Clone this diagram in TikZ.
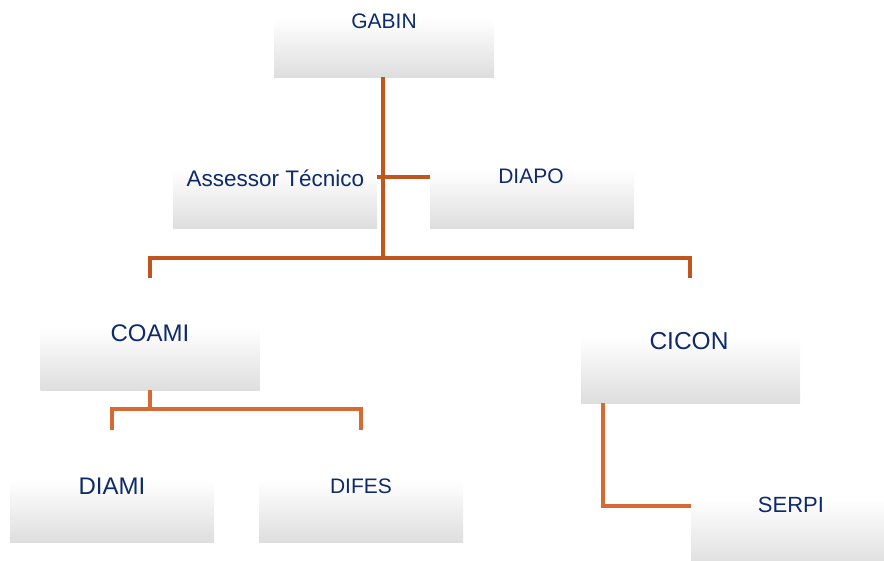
\documentclass[tikz,border=0pt]{standalone}
\usepackage{fontspec}
\setmainfont{Liberation Sans}
\definecolor{navy}{RGB}{14,42,107}
\definecolor{darkor}{RGB}{192,86,30}
\definecolor{lightor}{RGB}{214,106,48}
\definecolor{boxgray}{RGB}{222,222,222}
\begin{document}
\begin{tikzpicture}[x=1pt,y=-1pt,
  orgbox/.style={rectangle, draw=none, top color=white, bottom color=boxgray, minimum width=204pt, minimum height=58pt, inner sep=0pt},
  lbl/.style={text=navy, inner sep=0pt, anchor=center},
  conn/.style={line width=4pt, draw=darkor},
  conn2/.style={line width=4pt, draw=lightor}]
\useasboundingbox (0,0) rectangle (884,560);
\clip (0,0) rectangle (884,560);
% boxes
\node[orgbox, minimum width=220pt, minimum height=59pt] (gabin) at (384,47.5) {};
\node[orgbox] (assessor) at (275,199) {};
\node[orgbox] (diapo) at (532,199) {};
\node[orgbox, minimum width=219pt, minimum height=62pt] (coami) at (150,359) {};
\node[orgbox, minimum width=219pt, minimum height=67pt] (cicon) at (690.5,369.5) {};
\node[orgbox, minimum height=62pt] (diami) at (112,511) {};
\node[orgbox, minimum height=62pt] (difes) at (361,511) {};
\node[orgbox, minimum height=66pt] (serpi) at (793,533) {};
% labels
\node[lbl, font=\fontsize{21}{24}\selectfont] (gabint) at (384,21) {GABIN};
\node[lbl, font=\fontsize{22.5}{26}\selectfont] (assessort) at (275.5,178) {Assessor Técnico};
\node[lbl, font=\fontsize{21}{24}\selectfont] (diapot) at (531,176) {DIAPO};
\node[lbl, font=\fontsize{24}{28}\selectfont] (coamit) at (150,333) {COAMI};
\node[lbl, font=\fontsize{24.5}{28}\selectfont] (cicont) at (689,341) {CICON};
\node[lbl, font=\fontsize{24}{28}\selectfont] (diamit) at (112,486) {DIAMI};
\node[lbl, font=\fontsize{21}{24}\selectfont] (difest) at (361,486) {DIFES};
\node[lbl, font=\fontsize{22}{26}\selectfont] (serpit) at (791,505) {SERPI};
% coordinates
\coordinate (bus) at (383,258);
\coordinate (busL) at (150,258);
\coordinate (busR) at (690,258);
\coordinate (dropL) at (150,278);
\coordinate (dropR) at (690,278);
\coordinate (coamiBus) at (150,409);
\coordinate (coamiL) at (112,409);
\coordinate (coamiR) at (361,409);
\coordinate (coamiDL) at (112,430);
\coordinate (coamiDR) at (361,430);
\coordinate (ciconTop) at (603,403);
\coordinate (ciconCorner) at (603,506);
% connectors
\draw[conn] (gabin.south -| bus) -- (bus);
\draw[conn] (assessor.east |- 0,177) -- (diapo.west |- 0,177);
\draw[conn, line join=miter] (dropL) -- (busL) -- (busR) -- (dropR);
\draw[conn2] (coami.south) -- (coamiBus);
\draw[conn2, line join=miter] (coamiDL) -- (coamiL) -- (coamiR) -- (coamiDR);
\draw[conn2, line join=miter] (ciconTop) -- (ciconCorner) -- (serpi.west |- ciconCorner);
\end{tikzpicture}
\end{document}
